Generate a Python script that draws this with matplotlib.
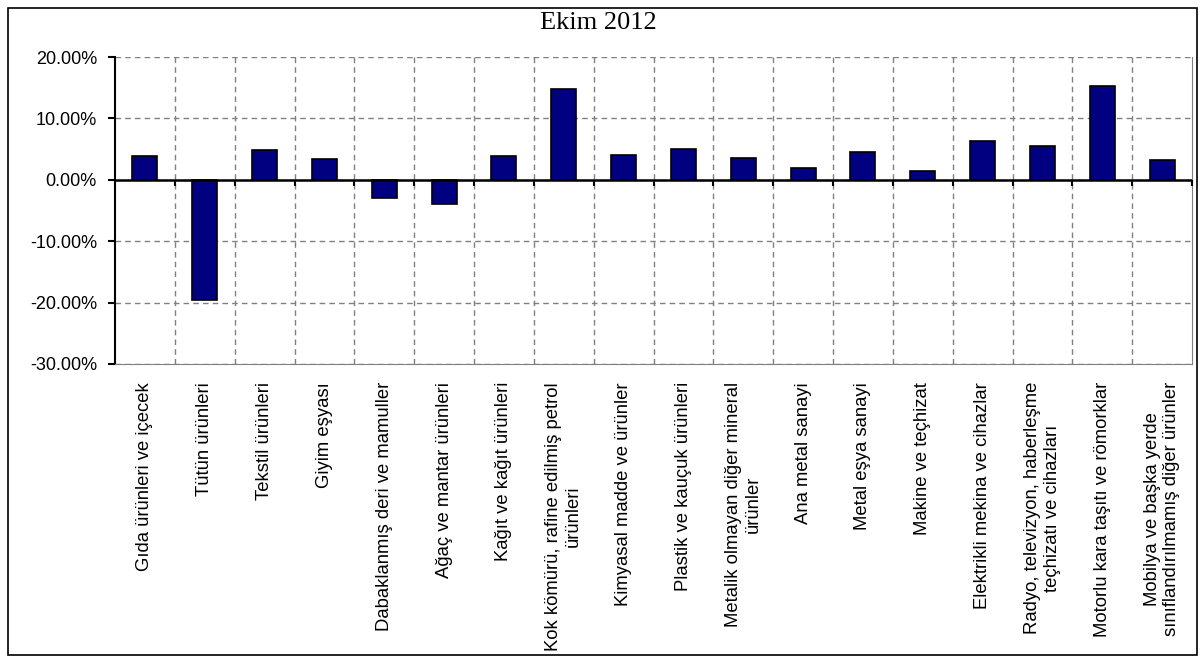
import matplotlib.pyplot as plt
import numpy as np
from matplotlib.patches import Rectangle

categories = [
    'Gıda ürünleri ve içecek',
    'Tütün ürünleri',
    'Tekstil ürünleri',
    'Giyim eşyası',
    'Dabaklanmış deri ve mamuller',
    'Ağaç ve mantar ürünleri',
    'Kağıt ve kağıt ürünleri',
    'Kok kömürü, rafine edilmiş petrol\nürünleri',
    'Kimyasal madde ve ürünler',
    'Plastik ve kauçuk ürünleri',
    'Metalik olmayan diğer mineral\nürünler',
    'Ana metal sanayi',
    'Metal eşya sanayi',
    'Makine ve teçhizat',
    'Elektrikli mekina ve cihazlar',
    'Radyo, televizyon, haberleşme\nteçhizatı ve cihazları',
    'Motorlu kara taşıtı ve römorklar',
    'Mobilya ve başka yerde\nsınıflandırılmamış diğer ürünler',
]
values = [3.9, -19.5, 4.8, 3.4, -2.9, -4.0, 3.9, 14.85, 4.1, 5.0,
          3.6, 1.9, 4.45, 1.4, 6.4, 5.55, 15.2, 3.3]
yticks = [-30, -20, -10, 0, 10, 20]

plt.rcParams['font.family'] = ['Liberation Sans', 'DejaVu Sans']

fig = plt.figure(figsize=(12, 6.62), dpi=100)
ax = fig.add_axes([115 / 1200, 1 - 364 / 662, (1192 - 115) / 1200, (364 - 57) / 662])

n = len(values)
x = np.arange(n)
ax.bar(x, values, width=0.42, color='#000080', edgecolor='black', linewidth=1.2, zorder=3)

ax.set_xlim(-0.5, n - 0.5)
ax.set_ylim(-30, 20)

# grid at category boundaries, labels at centres
ax.set_xticks(np.arange(0.5, n - 0.5, 1.0))
ax.set_xticks(x, minor=True)
ax.set_xticklabels([])
ax.set_xticklabels(categories, minor=True, rotation=90, fontsize=13.3,
                   va='top', ha='center', multialignment='center', linespacing=1.2)
ax.tick_params(axis='x', which='both', length=0)
ax.tick_params(axis='x', which='minor', pad=13)
ax.grid(axis='x', which='major', color='#808080', linestyle=(0, (4, 3)), linewidth=1)
ax.grid(axis='y', color='#808080', linestyle=(0, (4, 3)), linewidth=1)

ax.set_yticks(yticks)
ax.set_yticklabels(['%.2f%%' % v for v in yticks], fontsize=13)
ax.tick_params(axis='y', direction='out', length=5, width=1.5, pad=8)

ax.spines['top'].set_visible(False)
ax.spines['left'].set_color('black')
ax.spines['left'].set_linewidth(1.5)
ax.spines['right'].set_color('#808080')
ax.spines['bottom'].set_color('#808080')
ax.axhline(0, color='black', linewidth=1.8, zorder=4)

# tick marks on the zero line
ax2 = ax.twiny()
ax2.set_xlim(ax.get_xlim())
ax2.set_xticks(np.arange(0.5, n, 1.0))
ax2.xaxis.set_ticks_position('bottom')
ax2.spines['bottom'].set_position(('data', 0))
for s in ax2.spines.values():
    s.set_visible(False)
ax2.tick_params(axis='x', direction='out', length=4, width=1.5, labelbottom=False, labeltop=False)

fig.text(598 / 1200, 1 - 23 / 662, 'Ekim 2012', fontsize=19, family='Liberation Serif',
         ha='center', va='center')

fig.patches.append(Rectangle((8 / 1200, 1 - 655 / 662), 1189 / 1200, 647 / 662,
                             transform=fig.transFigure, fill=False,
                             edgecolor='black', linewidth=1.2))

fig.savefig('out.png', dpi=100)
